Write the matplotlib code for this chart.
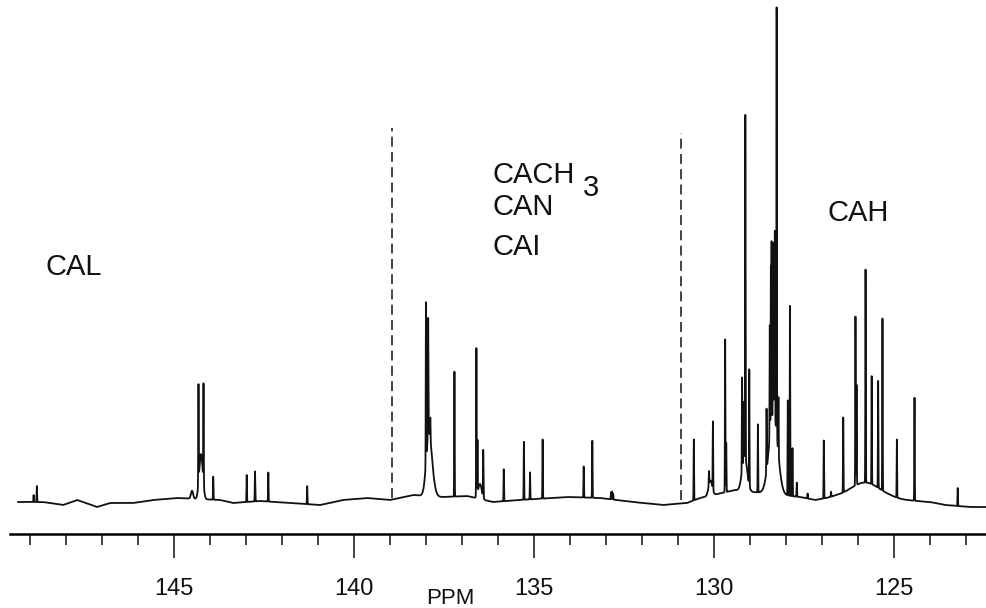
import numpy as np
import matplotlib.pyplot as plt

plt.rcParams['font.family'] = ['Liberation Sans', 'DejaVu Sans']

# sharp lines: shift (ppm) and height above the local background (arb. units)
line_ppm = [148.90, 148.81, 144.32, 144.18, 143.91, 142.98, 142.75, 142.38, 141.30,
            138.00, 137.94, 137.88, 137.21, 136.60, 136.57, 136.41, 135.84, 135.28,
            135.11, 134.76, 133.62, 133.38, 132.86, 132.83, 132.80,
            130.56, 130.14, 130.03, 129.69, 129.66, 129.22, 129.18, 129.13, 129.02,
            128.78, 128.54, 128.45, 128.42, 128.40, 128.36, 128.33, 128.31, 128.26,
            128.21, 127.95, 127.89, 127.82, 127.70, 127.40, 126.95, 126.75, 126.41,
            126.07, 126.04, 125.79, 125.62, 125.44, 125.32, 124.92, 124.43, 123.23]
line_height = [7, 16, 98, 99, 23, 27, 30, 29, 18,
               160, 118, 21, 125, 148, 53, 47, 32, 58,
               27, 59, 31, 57, 7, 8, 6,
               61, 14, 68, 153, 49, 92, 57, 343, 116,
               68, 62, 112, 160, 179, 161, 172, 187, 427,
               57, 95, 190, 48, 14, 5, 58, 5, 75,
               169, 100, 213, 108, 107, 172, 58, 103, 18]

# broad humps under the crowded groups
hump_ppm = [144.50, 144.25, 137.93, 137.85, 136.50, 130.10, 129.15, 128.35, 125.80]
hump_height = [8, 45, 50, 20, 15, 15, 35, 80, 15]
hump_width = [0.03, 0.05, 0.07, 0.08, 0.05, 0.05, 0.07, 0.12, 0.40]

# baseline drift
base_ppm = [149.33, 148.64, 148.08, 147.69, 147.14, 146.78, 146.14, 145.58, 144.92,
            143.72, 143.36, 142.61, 141.78, 140.94, 140.31, 139.64, 139.00, 138.36,
            137.53, 136.86, 136.14, 135.39, 134.08, 133.17, 132.25, 131.42, 130.75,
            130.39, 129.42, 127.61, 127.19, 126.64, 125.11, 124.69, 124.00, 123.58,
            122.89, 122.44]
base_level = [-2, -2, -5, 0, -7, -3, -3, 0, 2,
              0, -3, -1, -3, -5, 0, 2, 0, 5,
              3, 4, -2, 0, 3, 2, -2, -5, -3,
              2, 10, 3, 0, 3, 2, 0, -2, -5,
              -7, -7]

major_ticks = [145, 140, 135, 130, 125]
minor_ticks = list(range(149, 122, -1))
region_edges = [138.95, 130.93]

fig = plt.figure(figsize=(9.86, 6.08), dpi=100)
ax = fig.add_axes([0, 0, 1, 1])

ppm = np.linspace(149.33, 122.44, 40000)
spec = np.interp(ppm, base_ppm[::-1], base_level[::-1])
for p, h in zip(line_ppm, line_height):
    spec += h * np.exp(-0.5 * ((ppm - p) / 0.006) ** 2)
for p, h, w in zip(hump_ppm, hump_height, hump_width):
    spec += h * np.exp(-0.5 * ((ppm - p) / w) ** 2)

ax.plot(ppm, spec, color='#111111', lw=1.3)

# region separators
ax.plot([region_edges[0]] * 2, [2, 372], color='#111111', lw=1.1, dashes=(6.5, 3.5))
ax.plot([region_edges[1]] * 2, [0, 367], color='#111111', lw=1.1, dashes=(6.5, 3.5))

# group labels
lab = dict(fontsize=21, color='#111111', va='center', ha='left')
ax.text(148.58, 233, 'CAL', **lab)
ax.text(136.14, 325, 'CACH', **lab)
ax.text(133.64, 312, '3', **lab)
ax.text(136.14, 293, 'CAN', **lab)
ax.text(136.14, 253, 'CAI', **lab)
ax.text(126.86, 287, 'CAH', **lab)

ax.set_xlim(149.833, 122.444)
ax.set_ylim(-108, 500)

for s in ['top', 'left', 'right']:
    ax.spines[s].set_visible(False)
ax.spines['bottom'].set_position(('data', -34))
ax.spines['bottom'].set_bounds(149.56, 122.44)
ax.spines['bottom'].set_linewidth(1.8)
ax.set_yticks([])
ax.set_xticks(major_ticks)
ax.set_xticks(minor_ticks, minor=True)
ax.set_xticklabels([str(t) for t in major_ticks])
ax.tick_params(axis='x', which='major', direction='out', length=17, width=1.1,
               pad=15, labelsize=17, colors='#111111')
ax.tick_params(axis='x', which='minor', direction='out', length=8, width=1.1,
               colors='#111111')
ax.text(137.33, -98, 'PPM', fontsize=16, color='#111111', ha='center', va='center')

fig.savefig('out.png', dpi=100)
